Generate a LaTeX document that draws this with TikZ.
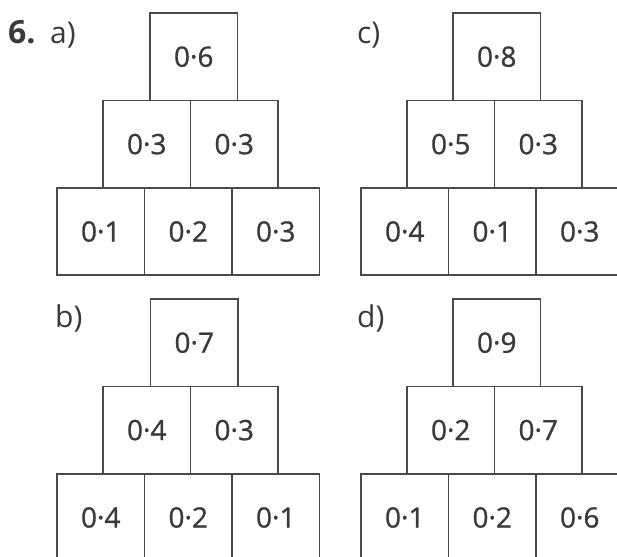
\documentclass[tikz,border=0pt]{standalone}
\usepackage{fontspec}
\setmainfont{Open Sans}
\newfontfamily\numfont[FakeBold=0.9]{Open Sans}
\definecolor{boxline}{HTML}{4A4A4A}
\definecolor{ink}{HTML}{3A3A3A}
\begin{document}
\begin{tikzpicture}[x=1pt,y=-1pt,
  cell/.style={draw=boxline,line width=1.7pt,rectangle,inner sep=0pt,
    minimum width=87.5pt,minimum height=87.4pt,text=ink,
    font=\numfont\fontsize{28}{32}\selectfont},
  lab/.style={anchor=base west,inner sep=0pt,text=ink,
    font=\fontsize{30}{34}\selectfont}]
\useasboundingbox (0,0) rectangle (617,556);
\clip (0,0) rectangle (617,556);
% labels
\node[lab,font=\fontsize{32}{36}\selectfont\bfseries] (six) at (8,44) {6.};
\node[lab] (la) at (50,44) {a)};
\node[lab] (lc) at (357,44) {c)};
\node[lab] (lb) at (55,327) {b)};
\node[lab] (ld) at (357,327) {d)};
% pyramid a
\node[cell] (a1)  at (193.75,56.7) {0·6};
\node[cell] (a21) at (146.75,144.1) {0·3};
\node[cell] (a22) at (234.25,144.1) {0·3};
\node[cell] (a31) at (100.75,231.5) {0·1};
\node[cell] (a32) at (188.25,231.5) {0·2};
\node[cell] (a33) at (275.75,231.5) {0·3};
% pyramid c
\node[cell] (c1)  at (496.75,56.7) {0·8};
\node[cell] (c21) at (450.75,144.1) {0·5};
\node[cell] (c22) at (538.25,144.1) {0·3};
\node[cell] (c31) at (404.75,231.5) {0·4};
\node[cell] (c32) at (492.25,231.5) {0·1};
\node[cell] (c33) at (579.75,231.5) {0·3};
% pyramid b
\node[cell] (b1)  at (194.25,342.7) {0·7};
\node[cell] (b21) at (146.75,430.1) {0·4};
\node[cell] (b22) at (234.25,430.1) {0·3};
\node[cell] (b31) at (100.75,517.5) {0·4};
\node[cell] (b32) at (188.25,517.5) {0·2};
\node[cell] (b33) at (275.75,517.5) {0·1};
% pyramid d
\node[cell] (d1)  at (496.75,342.7) {0·9};
\node[cell] (d21) at (450.75,430.1) {0·2};
\node[cell] (d22) at (538.25,430.1) {0·7};
\node[cell] (d31) at (404.75,517.5) {0·1};
\node[cell] (d32) at (492.25,517.5) {0·2};
\node[cell] (d33) at (579.75,517.5) {0·6};
\end{tikzpicture}
\end{document}
